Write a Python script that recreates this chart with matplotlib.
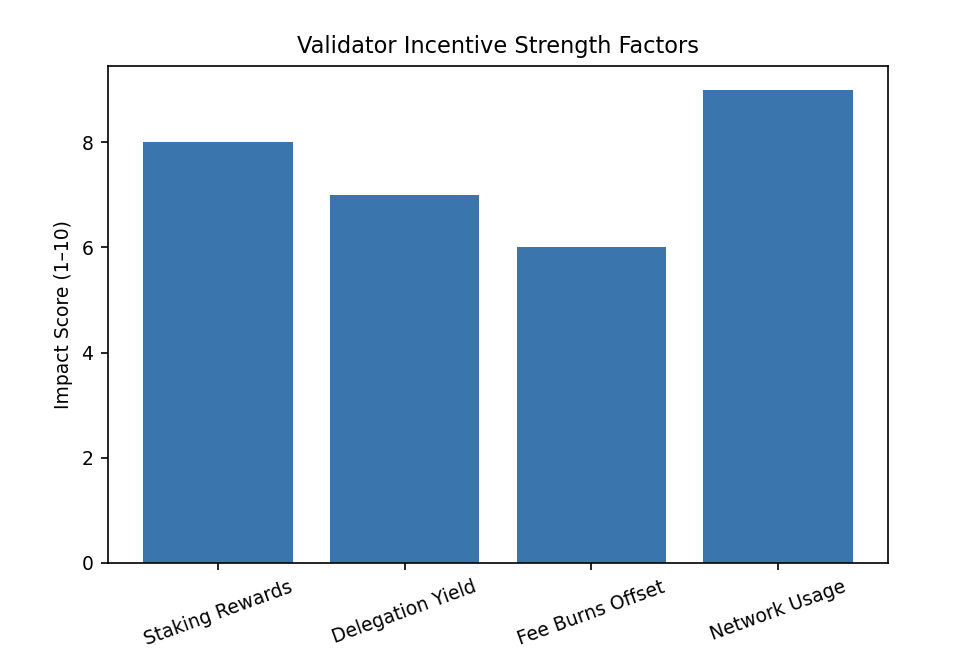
import matplotlib
matplotlib.use("Agg")
import matplotlib.pyplot as plt

factors = ["Staking Rewards", "Delegation Yield", "Fee Burns Offset", "Network Usage"]
scores = [8, 7, 6, 9]

plt.rcParams["font.size"] = 9

fig = plt.figure(figsize=(974 / 150, 670 / 150), dpi=150)
ax = fig.add_axes([108 / 974, 107 / 670, 780 / 974, 497 / 670])

ax.bar(factors, scores, color="#3b75ae")
ax.set_title("Validator Incentive Strength Factors")
ax.set_ylabel("Impact Score (1\u201310)")
plt.setp(ax.get_xticklabels(), rotation=20)

fig.savefig("out.png", dpi=150)
